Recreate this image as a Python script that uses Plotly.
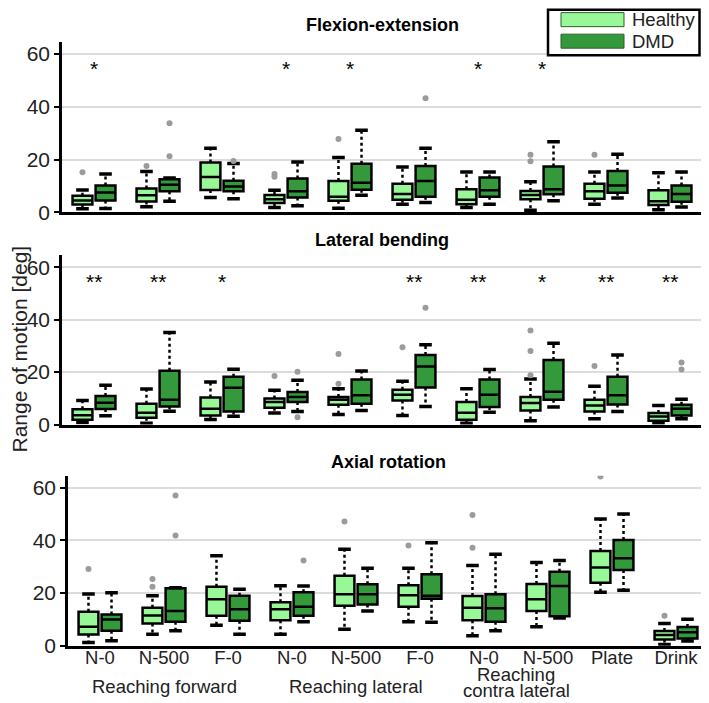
import plotly.graph_objects as go
from plotly.subplots import make_subplots

# the page has an 8 px body margin; the photographed picture comes out
# slightly squeezed vertically, so vertical placements are divided by Y_SCALE
PAGE_OFFSET = 8
Y_SCALE = 703 / 715
W, H = 709 - 2 * PAGE_OFFSET, 715 - 2 * PAGE_OFFSET

TASKS = ["N-0", "N-500", "F-0", "N-0", "N-500", "F-0", "N-0", "N-500", "Plate", "Drink"]
TASK_POS = list(range(1, 11))
GROUPS = [("Reaching forward", 2), ("Reaching lateral", 5)]

# --- Flexion-extension ---
fe_h_lo = [1.4, 2.1, 5.6, 1.8, 1.6, 3.1, 1.8, 0.8, 3.1, 1.0]
fe_h_q1 = [3.0, 4.1, 8.5, 3.5, 4.4, 4.8, 3.1, 5.0, 5.2, 2.8]
fe_h_med = [4.5, 6.5, 13.4, 5.0, 5.9, 7.0, 4.8, 6.6, 8.0, 4.2]
fe_h_q3 = [6.3, 9.0, 18.9, 6.6, 11.9, 10.8, 8.8, 8.1, 10.8, 8.4]
fe_h_hi = [8.5, 15.5, 24.3, 8.4, 20.8, 17.2, 15.3, 11.6, 15.3, 15.0]
fe_h_out_task = [1, 2, 4, 4, 5, 8, 8, 9]
fe_h_out_val = [15.2, 17.6, 14.5, 13.5, 27.8, 21.8, 19.4, 21.8]

fe_d_lo = [1.5, 4.2, 5.2, 2.5, 6.5, 3.7, 3.1, 4.4, 5.4, 2.0]
fe_d_q1 = [4.5, 8.0, 8.0, 5.6, 8.6, 5.9, 5.9, 6.9, 7.4, 4.0]
fe_d_med = [7.5, 10.5, 9.8, 8.0, 11.2, 11.9, 8.4, 8.8, 10.2, 7.0]
fe_d_q3 = [10.2, 12.5, 12.0, 12.8, 18.4, 17.6, 13.2, 17.4, 15.7, 10.2]
fe_d_hi = [14.5, 13.0, 18.5, 19.1, 31.1, 24.3, 15.3, 26.8, 22.0, 15.3]
fe_d_out_task = [2, 2, 3, 6]
fe_d_out_val = [21.3, 33.8, 19.5, 43.2]

fe_sig = ["*", "", "", "*", "*", "", "*", "*", "", ""]

# --- Lateral bending ---
lb_h_lo = [0.8, 0.5, 1.9, 4.4, 3.8, 3.5, 0.5, 1.5, 2.2, 0.6]
lb_h_q1 = [1.8, 2.6, 3.5, 6.4, 7.6, 9.2, 1.8, 5.4, 5.0, 1.5]
lb_h_med = [3.6, 4.5, 6.0, 8.6, 9.5, 11.4, 4.5, 8.2, 7.3, 3.1]
lb_h_q3 = [5.8, 7.9, 10.3, 9.9, 10.5, 13.3, 8.6, 10.5, 9.5, 4.4]
lb_h_hi = [9.2, 13.6, 16.2, 13.1, 13.7, 16.5, 13.7, 17.4, 14.6, 7.3]
lb_h_out_task = [4, 5, 5, 6, 8, 8, 8, 9]
lb_h_out_val = [18.5, 26.9, 15.6, 29.5, 35.9, 28.1, 18.8, 22.3]

lb_d_lo = [3.4, 5.1, 3.2, 5.0, 5.4, 6.9, 4.7, 6.7, 5.0, 2.2]
lb_d_q1 = [5.9, 6.9, 5.0, 8.6, 7.9, 14.1, 6.7, 9.5, 7.7, 3.5]
lb_d_med = [8.3, 9.5, 14.0, 10.5, 11.2, 22.1, 11.4, 12.5, 11.2, 6.0]
lb_d_q3 = [10.9, 20.5, 18.2, 12.4, 17.2, 26.5, 17.2, 24.6, 18.2, 7.6]
lb_d_hi = [15.0, 35.1, 21.1, 16.9, 20.4, 30.4, 21.0, 31.0, 26.5, 9.7]
lb_d_out_task = [4, 4, 6, 10, 10]
lb_d_out_val = [20.1, 2.8, 44.5, 23.7, 21.0]

lb_sig = ["**", "**", "*", "", "", "**", "**", "*", "**", "**"]

# --- Axial rotation ---
ar_h_lo = [1.3, 4.4, 7.8, 4.4, 6.3, 9.1, 3.8, 7.2, 20.3, 0.5]
ar_h_q1 = [4.3, 8.5, 11.4, 9.7, 15.2, 14.8, 9.7, 13.2, 23.9, 2.4]
ar_h_med = [7.2, 11.5, 17.6, 13.9, 19.5, 19.2, 14.4, 17.6, 29.7, 4.1]
ar_h_q3 = [12.9, 14.4, 22.4, 16.5, 26.6, 23.0, 18.9, 23.4, 35.9, 5.6]
ar_h_hi = [19.6, 19.0, 34.1, 22.8, 36.6, 29.4, 30.4, 31.6, 48.1, 8.5]
ar_h_out_task = [1, 2, 2, 5, 6, 7, 7, 9, 10]
ar_h_out_val = [29.1, 25.3, 22.4, 47.1, 38.0, 49.6, 37.2, 64.2, 11.4]

ar_d_lo = [1.9, 5.7, 4.4, 9.1, 13.2, 8.9, 5.7, 10.5, 21.1, 1.8]
ar_d_q1 = [5.7, 9.1, 9.5, 11.4, 15.7, 17.8, 9.1, 11.2, 28.7, 2.8]
ar_d_med = [10.0, 13.2, 13.9, 14.8, 19.5, 19.0, 14.2, 22.7, 33.2, 5.1]
ar_d_q3 = [11.9, 21.8, 19.0, 20.3, 23.3, 27.1, 19.5, 28.1, 40.1, 7.1]
ar_d_hi = [20.1, 22.0, 21.4, 22.7, 29.4, 39.1, 34.7, 32.3, 50.0, 10.1]
ar_d_out_task = [2, 2, 4]
ar_d_out_val = [57.0, 41.8, 32.3]

ar_sig = [""] * 10

HEALTHY_COLOR = "#98f898"
DMD_COLOR = "#33993a"
FONT = "Arial, Liberation Sans, sans-serif"
UNIT_PX = 64  # pixels per task slot


def px(x):
    # picture pixel -> paper fraction
    return (x - PAGE_OFFSET) / W


def py(y):
    return 1 - (y / Y_SCALE - PAGE_OFFSET) / H


def add_series(fig, row, offset, lo, q1, med, q3, hi, out_task, out_val, fill, name):
    xs = [t + offset for t in TASK_POS]
    wx, wy = [], []
    for x, a, b, c, d in zip(xs, lo, q1, q3, hi):
        wx += [x, x, None, x, x, None]
        wy += [b, a, None, c, d, None]
    fig.add_trace(go.Scatter(
        x=wx, y=wy, mode="lines",
        line=dict(color="black", width=2.5, dash="dot"),
        hoverinfo="skip", showlegend=False,
    ), row=row, col=1)
    fig.add_trace(go.Box(
        x=xs, q1=q1, median=med, q3=q3, lowerfence=q1, upperfence=q3,
        orientation="v", width=0.31, whiskerwidth=0,
        fillcolor=fill, line=dict(color="black", width=2.5),
        name=name, showlegend=False, boxpoints=False,
    ), row=row, col=1)
    fig.add_trace(go.Scatter(
        x=xs + xs, y=lo + hi, mode="markers",
        marker=dict(symbol="line-ew", size=9, line=dict(color="black", width=3.5)),
        hoverinfo="skip", showlegend=False,
    ), row=row, col=1)
    fig.add_trace(go.Scatter(
        x=[t + offset for t in out_task], y=out_val, mode="markers",
        marker=dict(color="#9b9b9b", size=6),
        showlegend=False, name=name,
    ), row=row, col=1)


fig = make_subplots(rows=3, cols=1)

panels = [
    (1, "Flexion-extension", fe_sig,
     (fe_h_lo, fe_h_q1, fe_h_med, fe_h_q3, fe_h_hi, fe_h_out_task, fe_h_out_val),
     (fe_d_lo, fe_d_q1, fe_d_med, fe_d_q3, fe_d_hi, fe_d_out_task, fe_d_out_val)),
    (2, "Lateral bending", lb_sig,
     (lb_h_lo, lb_h_q1, lb_h_med, lb_h_q3, lb_h_hi, lb_h_out_task, lb_h_out_val),
     (lb_d_lo, lb_d_q1, lb_d_med, lb_d_q3, lb_d_hi, lb_d_out_task, lb_d_out_val)),
    (3, "Axial rotation", ar_sig,
     (ar_h_lo, ar_h_q1, ar_h_med, ar_h_q3, ar_h_hi, ar_h_out_task, ar_h_out_val),
     (ar_d_lo, ar_d_q1, ar_d_med, ar_d_q3, ar_d_hi, ar_d_out_task, ar_d_out_val)),
]

# picture placement of each panel: (x left, x right, y top, y bottom, title y)
frames = {
    1: (62, 702, 42, 212, 25),
    2: (62, 702, 255, 424, 240),
    3: (68, 708, 475, 645, 461),
}

right_edge = PAGE_OFFSET + W
annotations = []
for row, title, sig, healthy, dmd in panels:
    add_series(fig, row, -0.18, *healthy, HEALTHY_COLOR, "Healthy")
    add_series(fig, row, 0.18, *dmd, DMD_COLOR, "DMD")
    x0, x1, y0, y1, ty = frames[row]
    cut = max(0, x1 - right_edge)
    fig.update_xaxes(
        domain=[px(x0), px(x1 - cut)], range=[0.5, 10.5 - cut / UNIT_PX],
        showline=True, linecolor="black", linewidth=3,
        showgrid=False, zeroline=False, ticks="",
        tickvals=TASK_POS, ticktext=TASKS,
        showticklabels=(row == 3), ticklabelstandoff=-7,
        tickfont=dict(size=18.5, color="#222"),
        row=row, col=1,
    )
    fig.update_yaxes(
        domain=[py(y1), py(y0)], range=[0, 64.5],
        tickvals=[0, 20, 40, 60],
        showline=True, linecolor="black", linewidth=2.5,
        ticks="outside", ticklen=5, tickwidth=2, tickcolor="black",
        showgrid=True, gridcolor="#dcdcdc", gridwidth=2, zeroline=False,
        tickfont=dict(size=21, color="#222"),
        row=row, col=1,
    )
    annotations.append(dict(
        text="<b>%s</b>" % title, x=px((x0 + x1) / 2), y=py(ty),
        xref="paper", yref="paper", showarrow=False,
        font=dict(size=18, color="black"), xanchor="center", yanchor="middle",
    ))
    xref = "x" if row == 1 else "x%d" % row
    yref = "y" if row == 1 else "y%d" % row
    for t, s in zip(TASK_POS, sig):
        if s:
            annotations.append(dict(
                text=s, x=t, y=54.5, xref=xref, yref=yref, showarrow=False,
                font=dict(size=21, color="black"), yanchor="middle",
            ))

# group labels under the bottom axis
for label, xpos in GROUPS:
    annotations.append(dict(
        text=label, x=xpos, y=py(686), xref="x3", yref="paper", showarrow=False,
        font=dict(size=18.5, color="#222"), yanchor="middle",
    ))
annotations.append(dict(
    text="Reaching", x=7.5, y=py(674), xref="x3", yref="paper", showarrow=False,
    font=dict(size=18.5, color="#222"), yanchor="middle",
))
annotations.append(dict(
    text="contra lateral", x=7.5, y=py(690), xref="x3", yref="paper", showarrow=False,
    font=dict(size=18.5, color="#222"), yanchor="middle",
))

# y-axis title
annotations.append(dict(
    text="Range of motion [deg]", x=px(19), y=py(349), xref="paper", yref="paper",
    showarrow=False, textangle=-90, font=dict(size=21, color="#222"),
    xanchor="center", yanchor="middle",
))

# legend box
legend_shapes = [
    dict(type="rect", xref="paper", yref="paper",
         x0=px(548), x1=px(699.5), y0=py(55), y1=py(9.5),
         line=dict(color="black", width=2.5), fillcolor="white"),
    dict(type="rect", xref="paper", yref="paper",
         x0=px(561), x1=px(624), y0=py(26.5), y1=py(12.5),
         line=dict(color="#2f5f2f", width=1), fillcolor=HEALTHY_COLOR),
    dict(type="rect", xref="paper", yref="paper",
         x0=px(561), x1=px(624), y0=py(48), y1=py(34),
         line=dict(color="#2f5f2f", width=1), fillcolor=DMD_COLOR),
]
annotations.append(dict(
    text="Healthy", x=px(630), y=py(19.5), xref="paper", yref="paper", showarrow=False,
    font=dict(size=18.5, color="#222"), xanchor="left", yanchor="middle",
))
annotations.append(dict(
    text="DMD", x=px(630), y=py(41), xref="paper", yref="paper", showarrow=False,
    font=dict(size=18.5, color="#222"), xanchor="left", yanchor="middle",
))

fig.update_layout(
    width=W, height=H,
    margin=dict(l=0, r=0, t=0, b=0),
    plot_bgcolor="white", paper_bgcolor="white",
    font=dict(family=FONT, color="#222"),
    boxmode="overlay",
    showlegend=False,
    annotations=annotations,
    shapes=legend_shapes,
)

fig.write_html("out.html")
